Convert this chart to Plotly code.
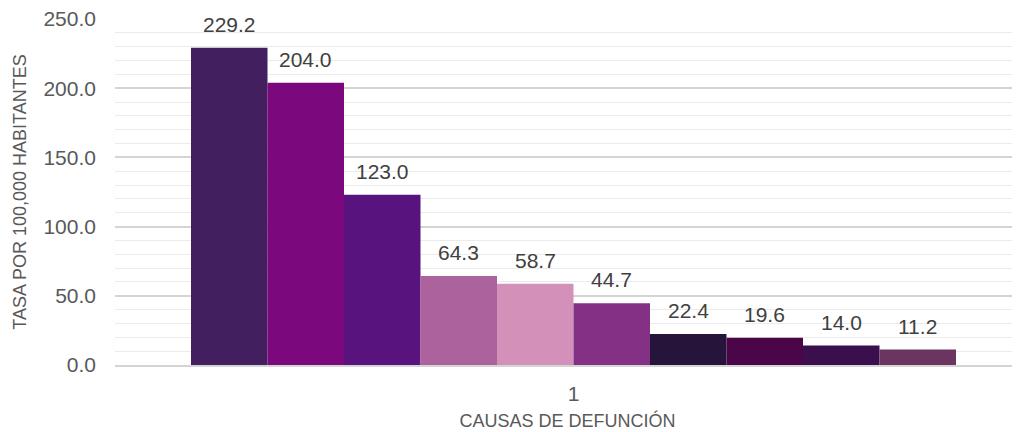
import plotly.graph_objects as go

# ---- data ----
categories = ["1"]
series_names = [f"Causa {i}" for i in range(1, 11)]
values = [229.2, 204.0, 123.0, 64.3, 58.7, 44.7, 22.4, 19.6, 14.0, 11.2]
colors = ["#421F5E", "#7B087C", "#59137E", "#AC629C", "#D391BA",
          "#843085", "#26143A", "#4B0649", "#3B0E4E", "#6C3560"]
y_ticks = [0, 50, 100, 150, 200, 250]
y_title = "TASA POR 100,000 HABITANTES"
x_title = "CAUSAS DE DEFUNCIÓN"

# ---- layout geometry (page body has an 8px margin) ----
PAGE_OFF = 8
FIG_W, FIG_H = 1020 - PAGE_OFF, 432 - PAGE_OFF
M_L, M_R, M_T, M_B = 115 - PAGE_OFF, 0, 19 - PAGE_OFF, 67
PLOT_W = FIG_W - M_L - M_R
GROUP_CENTER_PX = 573.5 - PAGE_OFF
GROUP_WIDTH_PX = 765
FONT = "Liberation Sans"

n = len(values)
x_cat = 1  # numeric position of the single category
r0 = x_cat - (GROUP_CENTER_PX - M_L) / PLOT_W
r1 = r0 + 1
bar_w = GROUP_WIDTH_PX / PLOT_W / n
start = -n * bar_w / 2

fig = go.Figure()
annotations = []
for i, (name, v, c) in enumerate(zip(series_names, values, colors)):
    fig.add_trace(go.Bar(
        x=[x_cat], y=[v], name=name, width=bar_w, offset=start + i * bar_w,
        marker=dict(color=c, line=dict(width=0)), showlegend=False,
        hovertemplate=f"{name}: %{{y:.1f}}<extra></extra>",
    ))
    annotations.append(dict(
        x=x_cat + start + (i + 0.5) * bar_w, y=v, xref="x", yref="y",
        text=f"{v:.1f}", showarrow=False, yanchor="bottom", yshift=10,
        font=dict(family=FONT, size=21, color="#404040"),
    ))

fig.update_layout(
    width=FIG_W, height=FIG_H,
    margin=dict(l=M_L, r=M_R, t=M_T, b=M_B, autoexpand=False),
    paper_bgcolor="white", plot_bgcolor="white",
    barmode="overlay",
    font=dict(family=FONT, color="#595959"),
    annotations=annotations,
    xaxis=dict(
        range=[r0, r1], tickvals=[x_cat], ticktext=categories,
        showgrid=False, zeroline=False, automargin=False,
        showline=True, linecolor="#d4d4d4", linewidth=2,
        ticks="", ticklabelstandoff=9,
        tickfont=dict(family=FONT, size=21, color="#595959"),
        title=dict(text=x_title, standoff=10,
                   font=dict(family=FONT, size=18, color="#595959")),
    ),
    yaxis=dict(
        range=[0, 250], tickvals=y_ticks, tickformat=".1f",
        showgrid=True, gridcolor="#d4d4d4", gridwidth=1.5,
        minor=dict(dtick=10, showgrid=True, gridcolor="#ebebeb", gridwidth=1.3),
        zeroline=False, showline=False, ticks="", ticklabelstandoff=18,
        ticklabeloverflow="allow", automargin=False,
        tickfont=dict(family=FONT, size=21, color="#595959"),
        title=dict(text=y_title, standoff=12,
                   font=dict(family=FONT, size=18, color="#595959")),
    ),
)

fig.write_html("out.html")
